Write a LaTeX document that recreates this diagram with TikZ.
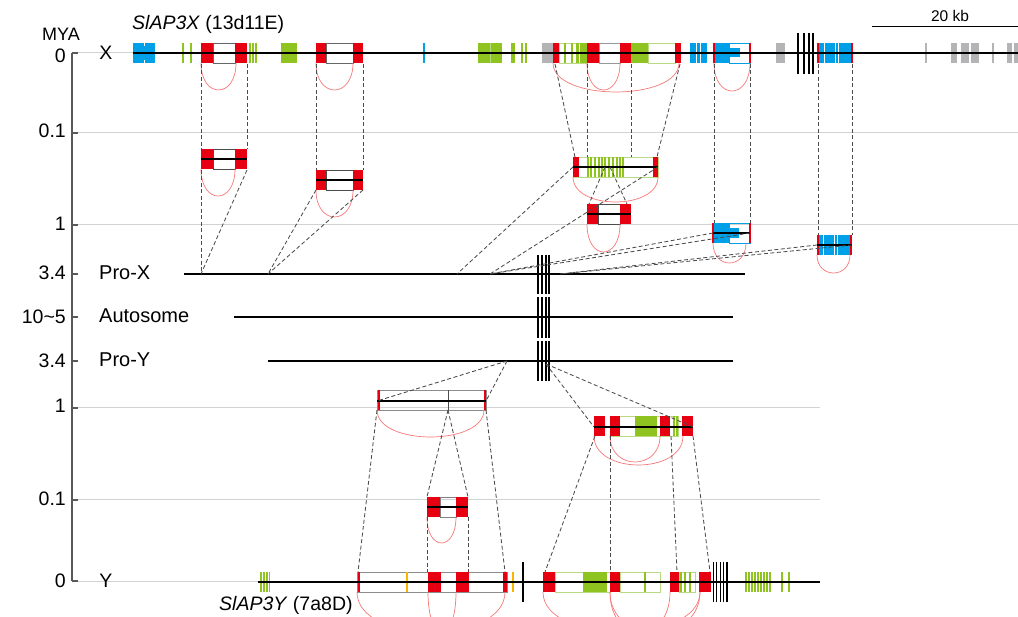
\documentclass[tikz,border=0pt]{standalone}
\usepackage{fontspec}
\setmainfont{Liberation Sans}
\definecolor{gred}{RGB}{230,0,18}
\definecolor{ggreen}{RGB}{143,195,31}
\definecolor{lgreen}{RGB}{185,218,130}
\definecolor{gblue}{RGB}{0,160,233}
\definecolor{ggray}{RGB}{180,180,182}
\definecolor{gridc}{RGB}{210,210,210}
\definecolor{arcc}{RGB}{245,120,120}
\definecolor{gorange}{RGB}{250,180,0}
\newcommand\EX[4]{\fill[#4] (#1,#3-10) rectangle (#2,#3+10);}
\newcommand\OB[4]{\draw[#4,line width=0.8pt] (#1,#3-10) rectangle (#2,#3+10);}
\newcommand\TL[3]{\draw[#3] (#1,#2-10) -- (#1,#2+10);}
\newcommand\HA[4]{\draw[arcl] (#1,#3) .. controls (#1,#3+#4*1.333) and (#2,#3+#4*1.333) .. (#2,#3);}
\begin{document}
\begin{tikzpicture}[x=1pt,y=-1pt,
  lab/.style={font=\fontsize{19.5}{22}\selectfont, inner sep=0pt},
  conn/.style={dash pattern=on 4pt off 2.5pt, line width=0.85pt, black!70},
  arcl/.style={draw=arcc, line width=0.7pt},
  chrom/.style={line width=1.2pt, black},
  gridl/.style={gridc, line width=1pt},
  midl/.style={line width=1.4pt, black},
  bar/.style={line width=1.8pt, black}]
\useasboundingbox (0,0) rectangle (1018,617);
\clip (0,0) rectangle (1018,617);
% grid and axis
\draw[gridl] (72,53) -- (1018,53);
\draw[gridl] (72,133) -- (1018,133);
\draw[gridl] (72,225) -- (1018,225);
\draw[gridl] (72,408) -- (820,408);
\draw[gridl] (72,500) -- (820,500);
\draw[gridl] (72,581) -- (820,581);
\draw[black!65,line width=1.2pt] (72,53) -- (72,581);
\foreach \yy in {53,133,225,274,317,361,408,500,581}{\draw[black!65,line width=1.2pt] (72,\yy) -- (78,\yy);}
% labels
\node[lab,font=\fontsize{18}{20}\selectfont] (mya) at (61,34) {MYA};
\node[lab,anchor=east] (n1) at (66,56) {0};
\node[lab,anchor=east] (n2) at (66,131) {0.1};
\node[lab,anchor=east] (n3) at (66,224) {1};
\node[lab,anchor=east] (n4) at (66,273) {3.4};
\node[lab,anchor=east] (n5) at (66,317) {10\textasciitilde5};
\node[lab,anchor=east] (n6) at (66,361) {3.4};
\node[lab,anchor=east] (n7) at (66,406) {1};
\node[lab,anchor=east] (n8) at (66,499) {0.1};
\node[lab,anchor=east] (n9) at (66,581) {0};
\node[lab] (lx) at (106,53) {X};
\node[lab] (ly) at (106,581) {Y};
\node[lab,anchor=west,font=\fontsize{20}{22}\selectfont] (lpx) at (99,273) {Pro-X};
\node[lab,anchor=west,font=\fontsize{20}{22}\selectfont] (lau) at (99,316) {Autosome};
\node[lab,anchor=west,font=\fontsize{20}{22}\selectfont] (lpy) at (99,360) {Pro-Y};
\node[lab,anchor=west] (gx) at (132,24) {\textit{SlAP3X} (13d11E)};
\node[lab,anchor=west] (gy) at (219,605) {\textit{SlAP3Y} (7a8D)};
\node[font=\fontsize{15.5}{18}\selectfont,inner sep=0pt] (kb) at (950,16) {20 kb};
\draw[line width=1pt] (872,27) -- (1018,27);

% ===== X row =====
\EX{133}{155}{53}{gblue}
\draw[white,line width=0.6pt] (144,43) -- (144,46) (144,60) -- (144,63);
\TL{183}{53}{ggreen,line width=1.5pt}\TL{191}{53}{ggreen,line width=1.5pt}
\OB{213}{235}{53}{black!60}\EX{201}{213}{53}{gred}\EX{235}{247}{53}{gred}
\TL{250}{53}{ggreen,line width=1.2pt}\TL{253}{53}{ggreen,line width=1.2pt}\TL{256}{53}{ggreen,line width=1.2pt}
\EX{281}{297}{53}{ggreen}
\OB{326}{353}{53}{black!60}\EX{316}{326}{53}{gred}\EX{353}{363}{53}{gred}
\TL{424}{53}{gblue,line width=1.2pt}
\EX{478}{502}{53}{ggreen}\TL{490.5}{53}{lgreen,line width=0.6pt}
\EX{511}{515}{53}{ggreen}\TL{522}{53}{ggreen,line width=1.4pt}\TL{526}{53}{ggreen,line width=1.4pt}
\EX{542}{553}{53}{ggray}
\OB{559}{587}{53}{lgreen}
\EX{553}{559}{53}{gred}
\EX{564}{566}{53}{ggreen}\EX{571}{573}{53}{ggreen}\EX{576}{579}{53}{ggreen}\EX{580}{587}{53}{ggreen}
\OB{599}{620}{53}{black!40}
\EX{587}{599}{53}{gred}
\EX{620}{631}{53}{gred}
\EX{631}{648}{53}{ggreen}
\OB{648}{675}{53}{lgreen}
\EX{675}{681}{53}{gred}
\EX{690}{707}{53}{gblue}\TL{696}{53}{white,line width=0.6pt}\TL{700}{53}{white,line width=0.6pt}
\OB{729}{750}{53}{gblue}\EX{714}{730}{53}{gblue}
\fill[gblue] (730,48) rectangle (740,57);
\TL{714}{53}{gred,line width=1.5pt}\TL{750}{53}{gred,line width=1.5pt}
\EX{776}{785}{53}{ggray}
\draw[bar] (798,33) -- (798,74);\draw[bar] (804,33) -- (804,74);\draw[bar] (809,33) -- (809,74);\draw[bar] (813,33) -- (813,74);
\EX{818}{852}{53}{gblue}
\TL{824}{53}{white,line width=0.7pt}\TL{835}{53}{white,line width=0.7pt}\TL{838}{53}{white,line width=0.7pt}
\TL{818}{53}{gred,line width=1.5pt}\TL{852}{53}{gred,line width=1.5pt}
\TL{926}{53}{ggray,line width=1.5pt}
\EX{951}{957}{53}{ggray}\EX{961}{969}{53}{ggray}\EX{971}{979}{53}{ggray}
\TL{993}{53}{ggray,line width=1.5pt}
\EX{1007}{1012}{53}{ggray}\EX{1014}{1018}{53}{ggray}
\draw[chrom] (133,53) -- (1018,53);
\HA{201}{236}{63}{27}
\HA{316}{353}{63}{27}
\HA{553}{679}{63}{29}
\HA{587}{620}{63}{27}
\HA{714}{750}{63}{28}

% ===== 0.1 level, X side =====
% box A
\OB{213}{235}{159}{black!70}\EX{201}{213}{159}{gred}\EX{235}{247}{159}{gred}
\draw[midl] (201,159) -- (247,159);
\HA{201}{235}{169}{27}
% box B
\OB{326}{353}{180}{black!70}\EX{316}{326}{180}{gred}\EX{353}{363}{180}{gred}
\draw[midl] (316,180) -- (363,180);
\HA{316}{353}{190}{27}
% box C
\OB{573}{658}{167}{lgreen}
\EX{573}{579}{167}{gred}\EX{653}{658}{167}{gred}
\foreach \sx in {587,590,594,598,601,604,608,612,616,619,622}{\EX{\sx}{\sx+2.2}{167}{ggreen}}
\draw[midl] (573,167) -- (658,167);
\HA{573}{658}{177}{25}

% ===== 1 MYA level, X side =====
% box D
\OB{598}{620}{214}{black!70}\EX{587}{598}{214}{gred}\EX{620}{631}{214}{gred}
\draw[midl] (587,214) -- (631,214);
\HA{587}{620}{224}{28}
% box E
\OB{729}{750}{233}{gblue}\EX{713}{729}{233}{gblue}
\fill[gblue] (729,228) rectangle (739,238);
\TL{713}{233}{gred,line width=1.5pt}\TL{750}{233}{gred,line width=1.5pt}
\draw[midl] (713,233) -- (750,233);
\HA{713}{746}{243}{20}
% box F
\EX{818}{851}{245}{gblue}
\TL{823}{245}{white,line width=0.7pt}\TL{834}{245}{white,line width=0.7pt}\TL{837}{245}{white,line width=0.7pt}
\TL{818}{245}{gred,line width=1.5pt}\TL{851}{245}{gred,line width=1.5pt}
\draw[midl] (817,245) -- (852,245);
\HA{817}{850}{255}{18}

% ===== ancestral lines =====
\draw[chrom] (184,274) -- (745,274);
\draw[chrom] (234,317) -- (733,317);
\draw[chrom] (268,361) -- (733,361);
\foreach \bx in {538,542,546,549}{
  \draw[line width=1.3pt] (\bx,255) -- (\bx,294);
  \draw[line width=1.3pt] (\bx,297) -- (\bx,338);
  \draw[line width=1.3pt] (\bx,341) -- (\bx,381);}

% ===== 1 MYA level, Y side =====
% box G
\OB{377}{486}{400}{black!45}
\draw[black!70,line width=0.7pt] (448,390) -- (448,410);
\TL{378.5}{400}{gred,line width=2pt}\TL{484.5}{400}{gred,line width=2pt}
\draw[midl] (377,401) -- (486,401);
\HA{377}{484}{410}{27}
% box H
\OB{610}{678}{426}{lgreen}
\EX{594}{605}{426}{gred}\EX{610}{620}{426}{gred}\EX{635}{657}{426}{ggreen}\EX{660}{670}{426}{gred}
\TL{674}{426}{ggreen,line width=1.5pt}\TL{677}{426}{ggreen,line width=1.2pt}
\EX{682}{693}{426}{gred}
\draw[midl] (594,427) -- (693,427);
\HA{594}{683}{436}{29}
\HA{610}{660}{436}{26}

% ===== 0.1 level, Y side =====
\OB{440}{456}{507}{black!50}\EX{427}{440}{507}{gred}\EX{456}{468}{507}{gred}
\draw[midl] (427,507) -- (468,507);
\HA{427}{456}{517}{26}

% ===== Y row =====
\foreach \gx in {261,264,267,269.5}{\TL{\gx}{582}{ggreen,line width=1.1pt}}
\OB{357}{507}{582}{black!45}
\TL{358.5}{582}{gred,line width=2pt}
\TL{407}{582}{gorange,line width=1.4pt}
\EX{428}{441}{582}{gred}\EX{456}{469}{582}{gred}
\EX{503}{507}{582}{gred}
\TL{513}{582}{gorange,line width=1.4pt}
\draw[bar] (523,562) -- (523,602);
\OB{555}{610}{582}{lgreen}
\EX{543}{555}{582}{gred}
\EX{583}{607}{582}{ggreen}
\OB{620}{660}{582}{lgreen}
\EX{610}{620}{582}{gred}
\TL{645}{582}{ggreen,line width=1.3pt}
\OB{679}{695}{582}{lgreen}
\EX{670}{679}{582}{gred}
\TL{681}{582}{ggreen,line width=1.3pt}\TL{685}{582}{ggreen,line width=1.3pt}\TL{690}{582}{ggreen,line width=2pt}
\EX{699}{711}{582}{gred}
\foreach \bx in {713,716.5,720,723.5}{\draw[black,line width=1pt] (\bx,562) -- (\bx,602);}
\draw[bar] (727,562) -- (727,602);
\foreach \gx in {746,749,752,755,758,761,764,767,770}{\TL{\gx}{582}{ggreen,line width=1.4pt}}
\TL{782}{582}{ggreen,line width=1.8pt}\TL{789}{582}{ggreen,line width=1.8pt}
\draw[chrom] (258,582) -- (820,582);
\HA{357}{505}{592}{40}
\HA{428}{456}{592}{40}
\HA{543}{700}{592}{40}
\HA{610}{670}{592}{40}
\HA{610}{700}{592}{40}

% ===== connector points =====
\coordinate (xa1) at (201,64);\coordinate (xa2) at (247,64);\coordinate (a1) at (201,149);\coordinate (a2) at (247,149);
\coordinate (xb1) at (316,64);\coordinate (xb2) at (363,64);\coordinate (b1) at (316,170);\coordinate (b2) at (363,170);
\coordinate (xc1) at (555,64);\coordinate (xc2) at (587,64);\coordinate (xc3) at (631,64);\coordinate (xc4) at (680,64);
\coordinate (c1) at (575,157);\coordinate (c2) at (587,157);\coordinate (c3) at (631,157);\coordinate (c4) at (657,157);
\coordinate (xe1) at (714,64);\coordinate (xe2) at (750,64);\coordinate (e1) at (714,223);\coordinate (e2) at (750,223);
\coordinate (xf1) at (818,64);\coordinate (xf2) at (852,64);\coordinate (f1) at (818,235);\coordinate (f2) at (852,235);
\coordinate (a3) at (201,170);\coordinate (a4) at (247,170);\coordinate (px1) at (201,274);
\coordinate (b3) at (316,190);\coordinate (b4) at (363,190);\coordinate (px2) at (268,274);
\coordinate (c5) at (573,167);\coordinate (c6) at (658,167);\coordinate (px3) at (457,274);\coordinate (px4) at (490,274);
\coordinate (c7) at (605,167);\coordinate (c8) at (610,167);\coordinate (d1) at (589,204);\coordinate (d2) at (627,204);
\coordinate (e3) at (713,233);\coordinate (e4) at (750,233);
\coordinate (f3) at (817,245);\coordinate (f4) at (852,245);\coordinate (px5) at (560,274);
\coordinate (py1) at (507,361);\coordinate (g1) at (377,401);\coordinate (g2) at (486,401);
\coordinate (py2) at (546,364);\coordinate (h1) at (594,427);\coordinate (h2) at (693,427);
\coordinate (g3) at (377,410);\coordinate (g4) at (486,410);\coordinate (y1) at (358,572);\coordinate (y2) at (505,572);
\coordinate (g5) at (448,410);\coordinate (i1) at (427,497);\coordinate (i2) at (468,497);
\coordinate (i3) at (427,517);\coordinate (i4) at (468,517);\coordinate (y3) at (427,572);\coordinate (y4) at (468,572);
\coordinate (h3) at (595,436);\coordinate (h4) at (610,436);\coordinate (h5) at (671,436);\coordinate (h6) at (693,436);
\coordinate (y5) at (545,572);\coordinate (y6) at (610,572);\coordinate (y7) at (677,572);\coordinate (y8) at (710,572);

% ===== connectors =====
\draw[conn] (xa1) -- (a1); \draw[conn] (xa2) -- (a2);
\draw[conn] (xb1) -- (b1); \draw[conn] (xb2) -- (b2);
\draw[conn] (xc1) -- (c1); \draw[conn] (xc2) -- (c2); \draw[conn] (xc3) -- (c3); \draw[conn] (xc4) -- (c4);
\draw[conn] (xe1) -- (e1); \draw[conn] (xe2) -- (e2);
\draw[conn] (xf1) -- (f1); \draw[conn] (xf2) -- (f2);
\draw[conn] (a3) -- (px1); \draw[conn] (a4) -- (px1);
\draw[conn] (b3) -- (px2); \draw[conn] (b4) -- (px2);
\draw[conn] (c5) -- (px3); \draw[conn] (c6) -- (px4);
\draw[conn] (c7) -- (d1); \draw[conn] (c8) -- (d2);
\draw[conn] (e3) -- (px4); \draw[conn] (e4) -- (px4);
\draw[conn] (f3) -- (px5); \draw[conn] (f4) -- (px5);
\draw[conn] (py1) -- (g1); \draw[conn] (py1) -- (g2);
\draw[conn] (py2) -- (h1); \draw[conn] (py2) -- (h2);
\draw[conn] (g3) -- (y1); \draw[conn] (g4) -- (y2);
\draw[conn] (g5) -- (i1); \draw[conn] (g5) -- (i2);
\draw[conn] (i3) -- (y3); \draw[conn] (i4) -- (y4);
\draw[conn] (h3) -- (y5); \draw[conn] (h4) -- (y6); \draw[conn] (h5) -- (y7); \draw[conn] (h6) -- (y8);
\end{tikzpicture}
\end{document}
